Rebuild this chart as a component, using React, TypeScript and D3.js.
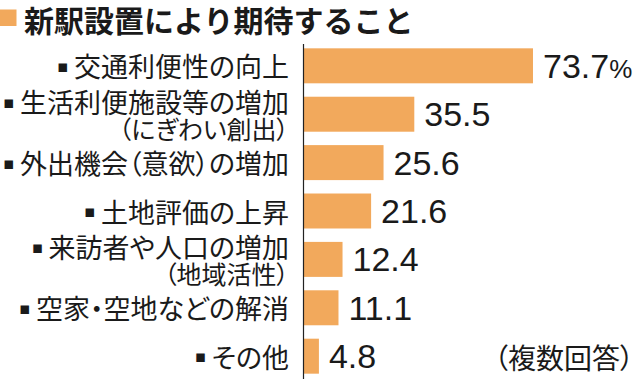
import React from "react";
import * as d3 from "d3";

const title = "新駅設置により期待すること";
const categoryLines: string[][] = [
  ["交通利便性の向上"],
  ["生活利便施設等の増加", "（にぎわい創出）"],
  ["外出機会（意欲）の増加"],
  ["土地評価の上昇"],
  ["来訪者や人口の増加", "（地域活性）"],
  ["空家・空地などの解消"],
  ["その他"],
];
const values = [73.7, 35.5, 25.6, 21.6, 12.4, 11.1, 4.8];
const valueLabels = ["73.7", "35.5", "25.6", "21.6", "12.4", "11.1", "4.8"];
const unitLabel = "%";
const note = "（複数回答）";

const W = 639;
const H = 379;
const ORANGE = "#F2A95C";
const JP = "'Noto Sans CJK JP', 'Noto Sans', sans-serif";
const NUM = "'Liberation Sans', Arial, sans-serif";

export default function App() {
  const idx = d3.range(values.length).map(String);
  const y = d3
    .scaleBand<string>()
    .domain(idx)
    .range([43, 379])
    .paddingInner(0.277)
    .paddingOuter(0.11);
  const x = d3.scaleLinear().domain([0, 100]).range([304, 304 + 310.7]);
  const bw = y.bandwidth();

  return (
    <svg
      width={W}
      height={H}
      viewBox={`0 0 ${W} ${H}`}
      style={{ position: "absolute", left: 0, top: 0, background: "#fff" }}
    >
      <rect x={0} y={9.5} width={16.5} height={16.5} fill={ORANGE} />
      <text
        x={24}
        y={19}
        fontFamily={JP}
        fontSize={30}
        fontWeight={700}
        dominantBaseline="central"
        fill="#1a1a1a"
      >
        {title}
      </text>

      {values.map((v, i) => {
        const y0 = y(String(i))!;
        const cy = y0 + bw / 2;
        return (
          <g key={i}>
            <rect x={x(0)} y={y0} width={x(v) - x(0)} height={bw} fill={ORANGE} />
            <text
              x={x(v) + 10}
              y={cy + 12}
              fontFamily={NUM}
              fontSize={34}
              fill="#1a1a1a"
            >
              {valueLabels[i]}
              {i === 0 ? (
                <tspan fontSize={26}>{unitLabel}</tspan>
              ) : null}
            </text>
          </g>
        );
      })}

      {categoryLines.map((lines, i) => {
        const cy = y(String(i))! + bw / 2;
        const offs = lines.length === 1 ? [0] : [-12.5, 13.5];
        return (
          <g key={"l" + i}>
            {lines.map((ln, j) => (
              <text
                key={j}
                x={289}
                y={cy + offs[j]}
                textAnchor="end"
                dominantBaseline="central"
                fontFamily={JP}
                fontSize={j > 0 ? 25 : 27}
                fill="#1a1a1a"
                style={{ fontFeatureSettings: "'palt'" }}
              >
                {j === 0 ? (
                  <tspan fontFamily="'DejaVu Sans'" fontSize={17}>
                    {"▪ "}
                  </tspan>
                ) : null}
                {ln}
              </text>
            ))}
          </g>
        );
      })}

      <line x1={303.5} x2={303.5} y1={44} y2={379} stroke="#222" strokeWidth={1.2} />

      <text
        x={634}
        y={356.5}
        textAnchor="end"
        dominantBaseline="central"
        fontFamily={JP}
        fontSize={28}
        fill="#1a1a1a"
        style={{ fontFeatureSettings: "'palt'" }}
      >
        {note}
      </text>
    </svg>
  );
}
